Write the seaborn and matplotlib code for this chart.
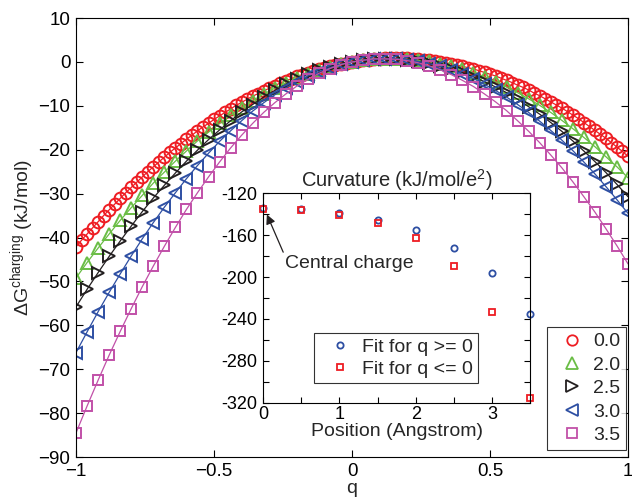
import numpy as np
import pandas as pd
import matplotlib
matplotlib.use('Agg')
import matplotlib.pyplot as plt
import seaborn as sns
from matplotlib.lines import Line2D
from matplotlib.ticker import MultipleLocator

# charging free energy vs q, one curve per position (Angstrom)
q_fine = np.linspace(-1, 1, 101)   # red series sampled every 0.02
q_coarse = np.linspace(-1, 1, 51)  # others every 0.04

g_00 = [-42.1, -40.6, -39.2, -37.8, -36.4, -35.0, -33.7, -32.4, -31.1, -29.8,
        -28.6, -27.4, -26.2, -25.0, -23.9, -22.8, -21.7, -20.6, -19.6, -18.6,
        -17.6, -16.7, -15.7, -14.8, -14.0, -13.1, -12.3, -11.5, -10.7, -9.9,
        -9.2, -8.5, -7.8, -7.2, -6.6, -6.0, -5.4, -4.8, -4.3, -3.8,
        -3.3, -2.9, -2.5, -2.1, -1.7, -1.3, -1.0, -0.7, -0.5, -0.2,
        0.0, 0.2, 0.4, 0.5, 0.6, 0.7, 0.8, 0.8, 0.8, 0.8,
        0.8, 0.7, 0.6, 0.5, 0.4, 0.2, 0.0, -0.2, -0.4, -0.7,
        -1.0, -1.3, -1.6, -2.0, -2.4, -2.8, -3.2, -3.7, -4.2, -4.7,
        -5.3, -5.8, -6.4, -7.1, -7.7, -8.4, -9.1, -9.8, -10.5, -11.3,
        -12.1, -12.9, -13.8, -14.7, -15.6, -16.5, -17.4, -18.4, -19.4, -20.4,
        -21.5]
g_20 = [-49.2, -45.7, -42.4, -39.2, -36.1, -33.2, -30.4, -27.6, -25.1, -22.6,
        -20.3, -18.0, -16.0, -14.0, -12.1, -10.4, -8.8, -7.3, -6.0, -4.8,
        -3.7, -2.7, -1.8, -1.1, -0.5, 0.0, 0.4, 0.6, 0.7, 0.7,
        0.6, 0.4, 0.1, -0.4, -1.0, -1.7, -2.5, -3.4, -4.5, -5.7,
        -7.0, -8.4, -9.9, -11.5, -13.3, -15.2, -17.2, -19.3, -21.6, -23.9,
        -26.4]
g_25 = [-55.8, -51.8, -48.0, -44.3, -40.8, -37.4, -34.1, -31.0, -28.1, -25.3,
        -22.6, -20.1, -17.7, -15.5, -13.4, -11.4, -9.7, -8.0, -6.5, -5.1,
        -3.9, -2.8, -1.9, -1.1, -0.5, 0.0, 0.4, 0.6, 0.7, 0.6,
        0.5, 0.1, -0.3, -0.9, -1.6, -2.4, -3.4, -4.5, -5.7, -7.0,
        -8.5, -10.2, -11.9, -13.8, -15.8, -18.0, -20.3, -22.7, -25.2, -27.9,
        -30.7]
g_30 = [-66.2, -61.5, -56.9, -52.5, -48.3, -44.2, -40.3, -36.6, -33.1, -29.8,
        -26.6, -23.6, -20.8, -18.1, -15.7, -13.4, -11.2, -9.3, -7.5, -5.9,
        -4.5, -3.2, -2.2, -1.3, -0.5, 0.0, 0.4, 0.6, 0.7, 0.7,
        0.5, 0.1, -0.4, -1.0, -1.8, -2.8, -3.8, -5.1, -6.5, -8.0,
        -9.7, -11.5, -13.5, -15.6, -17.8, -20.2, -22.8, -25.5, -28.4, -31.4,
        -34.5]
g_35 = [-84.5, -78.4, -72.5, -66.8, -61.4, -56.2, -51.2, -46.5, -42.0, -37.7,
        -33.6, -29.8, -26.2, -22.8, -19.6, -16.7, -14.0, -11.5, -9.3, -7.3,
        -5.5, -4.0, -2.6, -1.5, -0.6, 0.0, 0.4, 0.7, 0.7, 0.6,
        0.3, -0.2, -0.9, -1.8, -2.9, -4.2, -5.6, -7.3, -9.1, -11.1,
        -13.4, -15.8, -18.4, -21.2, -24.1, -27.3, -30.7, -34.2, -38.0, -41.9,
        -46.0]

labels = ['0.0', '2.0', '2.5', '3.0', '3.5']
colors = ['#ee1d23', '#6abd45', '#231f20', '#2e4fa3', '#c150a8']
markers = ['o', '^', '>', '<', 's']
msizes = [8.5, 9, 9, 9, 7.5]

# inset: curvature vs position
position = [0, 0.5, 1, 1.5, 2, 2.5, 3, 3.5]
curv_pos = [-133.7, -135.3, -139.1, -145.5, -155.4, -171.9, -195.8, -235.3]
curv_neg = [-135.3, -135.9, -141.0, -148.7, -162.7, -189.5, -233.1, -315.2]

sns.set_style('ticks')
plt.rcParams['font.family'] = ['Liberation Sans', 'DejaVu Sans']
plt.rcParams['mathtext.fontset'] = 'custom'
plt.rcParams['mathtext.rm'] = 'Liberation Sans'
plt.rcParams['mathtext.it'] = 'Liberation Sans:italic'
plt.rcParams['axes.edgecolor'] = 'black'
plt.rcParams['axes.linewidth'] = 0.8

fig = plt.figure(figsize=(6.32, 5.01), dpi=100)
ax = fig.add_axes([0.1203, 0.0878, 0.8734, 0.8762])

series = [(q_fine, g_00), (q_coarse, g_20), (q_coarse, g_25), (q_coarse, g_30), (q_coarse, g_35)]
for (qq, gg), lab, c, m, ms in zip(series, labels, colors, markers, msizes):
    df = pd.DataFrame({'q': qq, 'G': gg})
    sns.lineplot(data=df, x='q', y='G', ax=ax, color=c, linewidth=0.9,
                 marker=m, markersize=ms, markerfacecolor='none',
                 markeredgecolor=c, markeredgewidth=1.4, legend=False, sort=False)

ax.set_xlim(-1, 1)
ax.set_ylim(-90, 10)
ax.set_xticks([-1, -0.5, 0, 0.5, 1])
ax.set_xticklabels(['\u22121', '\u22120.5', '0', '0.5', '1'])
ax.set_yticks(np.arange(-90, 11, 10))
ax.tick_params(direction='in', length=5, width=0.8, labelsize=13.5,
               top=True, right=True, colors='black', pad=4)
ax.set_xlabel('q', fontsize=14, labelpad=0)
ax.set_ylabel('\u0394G$^{\\mathrm{charging}}$ (kJ/mol)', fontsize=14, labelpad=2)

handles = [Line2D([], [], linestyle='none', marker=m, markersize=ms - 1, markerfacecolor='none',
                  markeredgecolor=c, markeredgewidth=1.3)
           for c, m, ms in zip(colors, markers, msizes)]
leg = ax.legend(handles, labels, loc='lower right', bbox_to_anchor=(0.997, 0.016),
                borderaxespad=0, fontsize=14, frameon=True, fancybox=False,
                edgecolor='black', labelspacing=0.3, handlelength=2.0,
                handletextpad=0.1, borderpad=0.3)
leg.get_frame().set_linewidth(0.8)

# inset axes
ax_in = fig.add_axes([0.4166, 0.1962, 0.4220, 0.4180])
ax_in.set_facecolor('white')
sns.lineplot(x=position, y=curv_pos, ax=ax_in, linestyle='none', marker='o', markersize=4.5,
             markerfacecolor='none', markeredgecolor=colors[3], markeredgewidth=1.3,
             color=colors[3], clip_on=False, label='Fit for q >= 0')
sns.lineplot(x=position, y=curv_neg, ax=ax_in, linestyle='none', marker='s', markersize=4,
             markerfacecolor='none', markeredgecolor=colors[0], markeredgewidth=1.3,
             color=colors[0], clip_on=False, label='Fit for q <= 0')
ax_in.set_xlim(0, 3.5)
ax_in.set_ylim(-320, -120)
ax_in.set_xticks([0, 1, 2, 3])
ax_in.set_xticklabels(['0', '1', '2', '3'])
ax_in.xaxis.set_minor_locator(MultipleLocator(0.5))
yt = [-320, -280, -240, -200, -160, -120]
ax_in.set_yticks(yt)
ax_in.set_yticklabels([str(v) for v in yt])
ax_in.yaxis.set_minor_locator(MultipleLocator(20))
ax_in.tick_params(which='both', direction='in', length=4, width=0.8, top=True, right=True,
                  labelsize=13, colors='black')
ax_in.tick_params(axis='y', pad=4)
ax_in.tick_params(axis='x', pad=2.5)
ax_in.set_title('Curvature (kJ/mol/e$^2$)', fontsize=14.5, pad=4)
ax_in.set_xlabel('Position (Angstrom)', fontsize=14, labelpad=0)
ax_in.set_ylabel('')
ax_in.annotate('Central charge', xy=(0.04, -139), xytext=(0.28, -187.5),
               fontsize=14, ha='left', va='center',
               arrowprops=dict(arrowstyle='-|>', color='#231f20', lw=0.9,
                               relpos=(0, 1), shrinkA=0, shrinkB=1))
leg_in = ax_in.legend(loc='lower right', bbox_to_anchor=(0.805, 0.095), borderaxespad=0,
                      fontsize=14, frameon=True, fancybox=False, edgecolor='black',
                      labelspacing=0.2, handlelength=2.2, handletextpad=0.0, borderpad=0.27)
leg_in.get_frame().set_linewidth(0.8)

fig.savefig('out.png', dpi=100)
